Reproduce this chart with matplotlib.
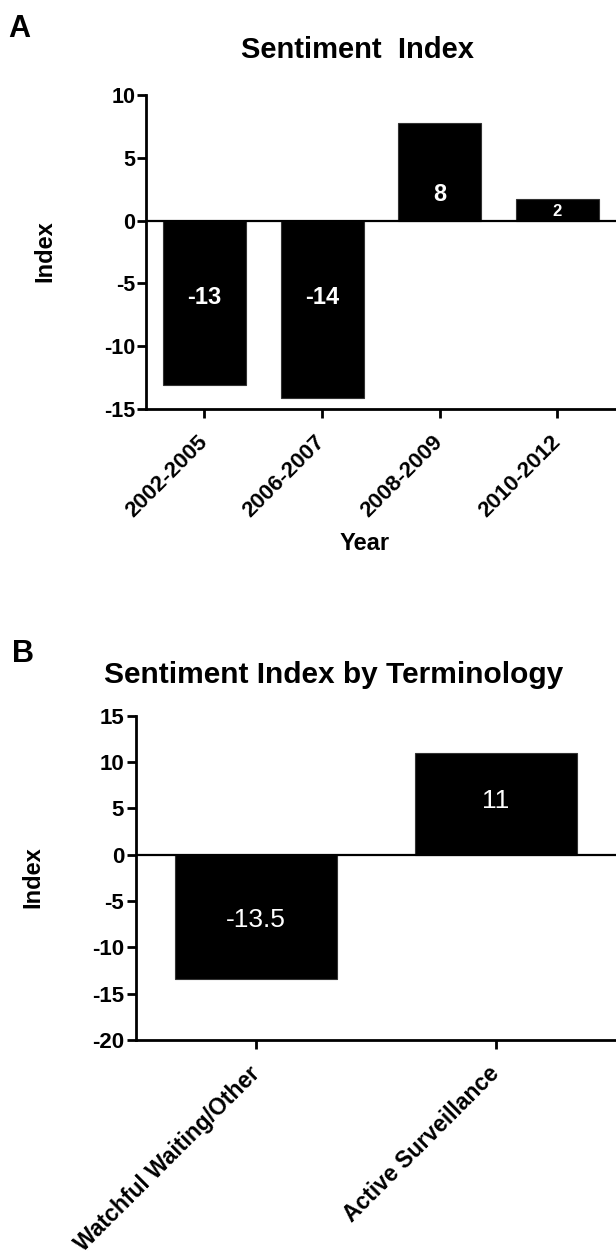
import numpy as np
import matplotlib
matplotlib.use("Agg")
import matplotlib.pyplot as plt

plt.rcParams['font.family'] = ['Liberation Sans', 'DejaVu Sans']
plt.rcParams['axes.unicode_minus'] = False

# Panel A: sentiment by year
years = ['2002-2005', '2006-2007', '2008-2009', '2010-2012']
year_index = [-13.1, -14.1, 7.8, 1.75]
year_text = ['-13', '-14', '8', '2']

# Panel B: sentiment by terminology
terms = ['Watchful Waiting/Other', 'Active Surveillance']
term_index = [-13.4, 11.0]
term_text = ['-13.5', '11']

W, H = 616, 1256
fig = plt.figure(figsize=(W / 100, H / 100), dpi=100)
fig.patch.set_facecolor('white')


def px(x, y):
    # pixel position (from top-left) -> figure fraction
    return x / W, 1 - y / H


def style_axes(ax):
    for s in ['top', 'right']:
        ax.spines[s].set_visible(False)
    for s in ['left', 'bottom']:
        ax.spines[s].set_linewidth(2.0)
    ax.axhline(0, color='black', lw=1.6, zorder=3)
    ax.tick_params(axis='both', length=6.5, width=2.0, direction='out')


# ---- A ----
axA = fig.add_axes([145.7 / W, 1 - 409 / H, 1 - 145.7 / W, (409 - 95) / H])
xa = np.arange(len(years))
axA.bar(xa, year_index, width=0.705, color='black', edgecolor='#333333', lw=0.8, zorder=2)
axA.set_xlim(-0.5, 3.5)
axA.set_ylim(-15, 10)
axA.set_yticks([-15, -10, -5, 0, 5, 10])
style_axes(axA)
axA.tick_params(axis='y', pad=1, labelsize=15.5)
for lab in axA.get_yticklabels():
    lab.set_fontweight('bold')
axA.set_xticks(xa, years, rotation=45, ha='right', va='center',
               rotation_mode='anchor', fontsize=16, fontweight='bold')
axA.tick_params(axis='x', pad=15)

a_label_y = [-6.1, -6.1, 2.1, 0.7]
a_label_size = [17, 17, 17, 12]
for i in range(len(years)):
    axA.text(xa[i], a_label_y[i], year_text[i], color='white', ha='center', va='center',
             fontsize=a_label_size[i], fontweight='bold', zorder=4)

fig.text(*px(8, 37), 'A', fontsize=22, fontweight='bold', ha='left', va='baseline')
fig.text(*px(357.5, 58), 'Sentiment  Index', fontsize=21, fontweight='bold',
         ha='center', va='baseline')
fig.text(*px(45, 251), 'Index', fontsize=17, fontweight='bold', rotation=90,
         ha='center', va='center')
fig.text(*px(365, 543), 'Year', fontsize=17, fontweight='bold', ha='center', va='center')

# ---- B ----
axB = fig.add_axes([136 / W, 1 - 1040 / H, 1 - 136 / W, (1040 - 715.7) / H])
xb = np.arange(len(terms))
axB.bar(xb, term_index, width=0.672, color='black', edgecolor='#333333', lw=0.8, zorder=2)
axB.set_xlim(-0.5, 1.5)
axB.set_ylim(-20, 15)
axB.set_yticks([-20, -15, -10, -5, 0, 5, 10, 15])
style_axes(axB)
axB.tick_params(axis='y', pad=2, labelsize=16)
for lab in axB.get_yticklabels():
    lab.set_fontweight('bold')
axB.set_xticks(xb, terms, rotation=45, ha='right', va='center',
               rotation_mode='anchor', fontsize=16.5, fontweight='bold')
axB.tick_params(axis='x', pad=15)

b_label_y = [-7.1, 5.8]
for i in range(len(terms)):
    axB.text(xb[i], b_label_y[i], term_text[i], color='white', ha='center', va='center',
             fontsize=19, zorder=4)

fig.text(*px(12, 662), 'B', fontsize=22, fontweight='bold', ha='left', va='baseline')
fig.text(*px(333.5, 683), 'Sentiment Index by Terminology', fontsize=21.5,
         fontweight='bold', ha='center', va='baseline')
fig.text(*px(33, 877), 'Index', fontsize=17, fontweight='bold', rotation=90,
         ha='center', va='center')

fig.savefig('out.png', dpi=100)
